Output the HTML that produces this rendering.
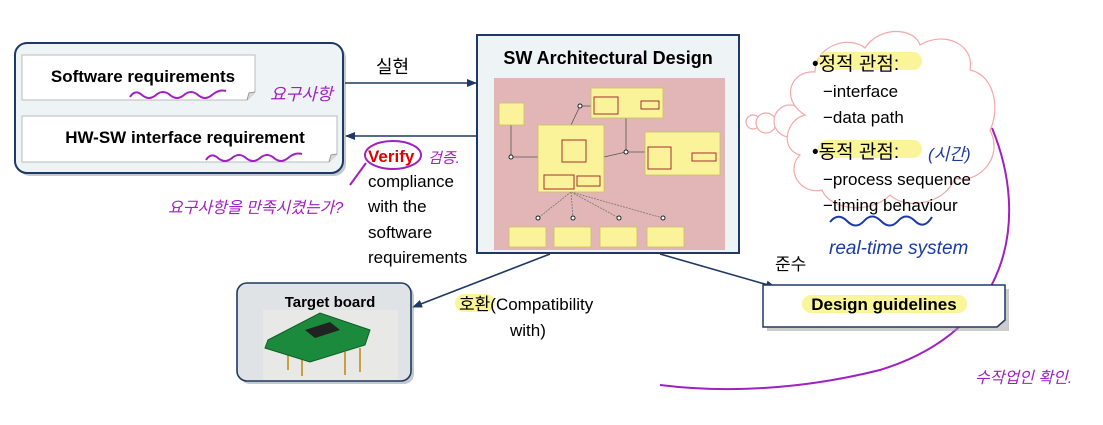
<!DOCTYPE html>
<html><head><meta charset="utf-8"><style>
html,body{margin:0;padding:0;background:#fff;}
body{width:1103px;height:425px;overflow:hidden;position:relative;font-family:"Liberation Sans","Noto Sans CJK KR",sans-serif;}
svg{position:absolute;left:0;top:0;}
</style></head><body>
<svg width="1103" height="425" viewBox="0 0 1103 425" xmlns="http://www.w3.org/2000/svg" font-family="Liberation Sans, Noto Sans CJK KR, sans-serif">
<defs>
<marker id="ar" markerWidth="10" markerHeight="10" refX="9" refY="5" orient="auto" markerUnits="userSpaceOnUse"><path d="M0,1 L10,5 L0,9 z" fill="#1f3864"/></marker>
</defs>
<!-- left group -->
<rect x="18" y="46" width="328" height="130" rx="12" fill="#8a94a0" opacity="0.5"/>
<rect x="15" y="43" width="328" height="130" rx="12" fill="#eef3f5" stroke="#1f3864" stroke-width="2"/>
<path d="M22,55 H255 V92 L247,100 H22 Z" fill="#fff" stroke="#bbb"/>
<path d="M247,100 L249,93 L255,92" fill="#ddd" stroke="#999"/>
<text x="143" y="82" font-size="17" font-weight="bold" text-anchor="middle" fill="#000">Software requirements</text>
<path d="M22,116 H337 V154 L329,162 H22 Z" fill="#fff" stroke="#bbb"/>
<path d="M329,162 L331,155 L337,154" fill="#ddd" stroke="#999"/>
<text x="185" y="143" font-size="17" font-weight="bold" text-anchor="middle" fill="#000">HW-SW interface requirement</text>
<g fill="none" stroke="#a020c0" stroke-width="2">
<path d="M130,97 q5,-8 12,-2 t14,0 t14,0 t14,0 t14,0 t14,0 t14,-4"/>
<path d="M206,160 q5,-8 12,-2 t14,0 t14,0 t14,0 t14,0 t14,0 t14,-4"/>
<ellipse cx="393" cy="155" rx="28" ry="14"/>
<path d="M366,163 L350,185"/>
<path d="M992,128 C1030,220 1010,330 880,370 C780,395 700,390 660,385"/>
</g>
<text x="270" y="100" font-size="17" fill="#a020c0" font-style="italic">요구사항</text>
<text x="168" y="213" font-size="16" fill="#a020c0" font-style="italic">요구사항을 만족시켰는가?</text>
<text x="428" y="163" font-size="15" fill="#a020c0" font-style="italic">검증.</text>
<text x="975" y="383" font-size="16" fill="#a020c0" font-style="italic">수작업인 확인.</text>
<!-- arrows -->
<line x1="345" y1="83" x2="476" y2="83" stroke="#1f3864" stroke-width="1.6" marker-end="url(#ar)"/>
<text x="376" y="73" font-size="18" fill="#000">실현</text>
<line x1="476" y1="136" x2="346" y2="136" stroke="#1f3864" stroke-width="1.6" marker-end="url(#ar)"/>
<text x="368" y="162" font-size="17" font-weight="bold" fill="#e00000">Verify</text>
<g font-size="17" fill="#000">
<text x="368" y="187">compliance</text>
<text x="368" y="212">with the</text>
<text x="368" y="238">software</text>
<text x="368" y="263">requirements</text>
</g>
<!-- center -->
<rect x="477" y="35" width="262" height="218" fill="#eef3f5" stroke="#1f3864" stroke-width="2"/>
<text x="608" y="64" font-size="18" font-weight="bold" text-anchor="middle" fill="#000">SW Architectural Design</text>
<rect x="494" y="78" width="231" height="172" fill="#e2b6b6"/>
<g stroke="#777" stroke-width="0.8" fill="none" stroke-dasharray="2,1">
<line x1="571" y1="192" x2="538" y2="218"/><line x1="571" y1="192" x2="573" y2="218"/><line x1="571" y1="192" x2="619" y2="218"/><line x1="571" y1="192" x2="663" y2="218"/>
</g>
<g stroke="#555" stroke-width="0.8" fill="none">
<line x1="511" y1="125" x2="511" y2="157"/><line x1="511" y1="157" x2="538" y2="157"/>
<line x1="571" y1="125" x2="580" y2="106"/><line x1="580" y1="106" x2="591" y2="106"/>
<line x1="626" y1="118" x2="626" y2="152"/><line x1="604" y1="157" x2="626" y2="152"/><line x1="626" y1="152" x2="645" y2="152"/>
</g>
<g fill="#fbf39a" stroke="#c8c060" stroke-width="0.8">
<rect x="499" y="103" width="25" height="22"/>
<rect x="538" y="125" width="66" height="67"/>
<rect x="591" y="88" width="72" height="30"/>
<rect x="645" y="132" width="75" height="43"/>
<rect x="509" y="227" width="37" height="20"/>
<rect x="554" y="227" width="37" height="20"/>
<rect x="600" y="227" width="37" height="20"/>
<rect x="647" y="227" width="37" height="20"/>
</g>
<g fill="none" stroke="#a03030" stroke-width="1">
<rect x="562" y="140" width="24" height="22"/><rect x="544" y="175" width="30" height="14"/><rect x="577" y="176" width="23" height="10"/>
<rect x="594" y="97" width="24" height="17"/><rect x="641" y="101" width="18" height="8"/>
<rect x="648" y="147" width="23" height="22"/><rect x="692" y="153" width="24" height="8"/>
</g>
<g fill="#fff" stroke="#222" stroke-width="1">
<circle cx="511" cy="157" r="2"/><circle cx="580" cy="106" r="2"/><circle cx="626" cy="152" r="2"/>
<circle cx="538" cy="218" r="2"/><circle cx="573" cy="218" r="2"/><circle cx="619" cy="218" r="2"/><circle cx="663" cy="218" r="2"/>
</g>
<!-- cloud -->
<g fill="#fff" stroke="#f4a8a8" stroke-width="1.2">
<circle cx="753" cy="122" r="7"/><circle cx="766" cy="123" r="10"/><circle cx="790" cy="121" r="16"/>
<path d="M805,115 C780,100 790,70 815,72 C815,45 850,35 865,48 C880,25 915,28 920,45 C945,30 975,45 970,70 C995,75 1000,110 990,130 C1005,160 975,185 955,178 C945,205 905,210 890,195 C870,215 830,210 822,190 C800,195 785,170 800,155 C780,150 785,120 805,115 Z"/>
</g>
<rect x="818" y="52" width="104" height="18" rx="9" fill="#fbf59a"/>
<rect x="818" y="140" width="104" height="18" rx="9" fill="#fbf59a"/>
<g font-size="19" fill="#000">
<text x="812" y="70">•정적 관점:</text>
<text x="812" y="158">•동적 관점:</text>
</g>
<g font-size="17" fill="#000">
<text x="823" y="97">−interface</text>
<text x="823" y="123">−data path</text>
<text x="823" y="185">−process sequence</text>
<text x="823" y="211">−timing behaviour</text>
</g>
<text x="928" y="160" font-size="17" fill="#1a3aa8" font-style="italic">(시간)</text>
<path d="M830,222 q8,-10 17,-1 t17,0 t17,0 t17,0 t17,0 t17,-4" fill="none" stroke="#1a3aa8" stroke-width="2"/>
<text x="829" y="254" font-size="19" fill="#1a3aa8" font-style="italic">real-time system</text>
<!-- design guidelines -->
<text x="775" y="270" font-size="17" fill="#000">준수</text>
<line x1="660" y1="254" x2="775" y2="287" stroke="#1f3864" stroke-width="1.6" marker-end="url(#ar)"/>
<rect x="767" y="289" width="242" height="42" fill="#999" opacity="0.5"/>
<path d="M763,285 H1005 V320 L997,327 H763 Z" fill="#fff" stroke="#1f3864" stroke-width="1.5"/>
<rect x="802" y="295" width="165" height="18" rx="9" fill="#fbf59a"/>
<text x="884" y="310" font-size="17" font-weight="bold" text-anchor="middle" fill="#000">Design guidelines</text>
<!-- target board -->
<line x1="550" y1="254" x2="413" y2="307" stroke="#1f3864" stroke-width="1.6" marker-end="url(#ar)"/>
<rect x="240" y="286" width="174" height="98" rx="10" fill="#8a94a0" opacity="0.5"/>
<rect x="237" y="283" width="174" height="98" rx="10" fill="#dfe3e6" stroke="#1f3864" stroke-width="1.6"/>
<text x="330" y="307" font-size="15" font-weight="bold" text-anchor="middle" fill="#000">Target board</text>
<rect x="263" y="310" width="135" height="70" fill="#e8e8e6"/>
<g stroke="#c9a040" stroke-width="2"><line x1="288" y1="345" x2="288" y2="370"/><line x1="302" y1="350" x2="302" y2="376"/><line x1="345" y1="352" x2="345" y2="375"/><line x1="360" y1="348" x2="360" y2="372"/></g>
<path d="M268,340 L320,313 L370,330 L365,345 L310,362 L265,348 Z" fill="#1c8a3c" stroke="#0f5e26"/>
<path d="M305,330 L330,322 L340,330 L315,338 Z" fill="#222"/>
<rect x="455" y="294" width="40" height="18" rx="9" fill="#fbf59a"/>
<text x="459" y="310" font-size="17" fill="#000">호환(Compatibility</text>
<text x="510" y="336" font-size="17" fill="#000">with)</text>
</svg>
</body></html>
